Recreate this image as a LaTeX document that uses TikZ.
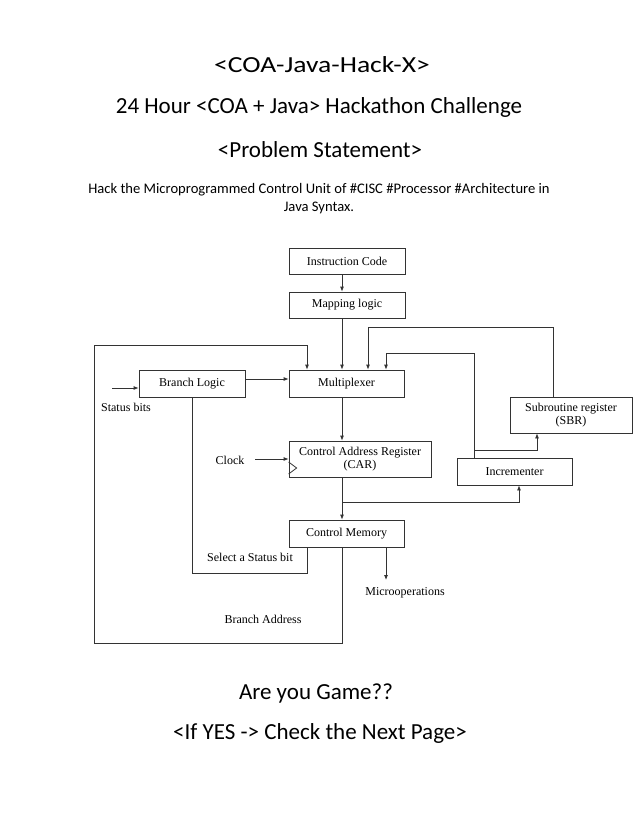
\documentclass[tikz,border=0pt]{standalone}
\usepackage{fontspec}
\setmainfont{Liberation Serif}
\newfontfamily\titlefont{Carlito}
\usetikzlibrary{arrows.meta}
\begin{document}
\begin{tikzpicture}[x=1pt,y=-1pt,
  box/.style={draw=black!80,line width=0.8pt,fill=white,inner sep=1pt,align=center,font=\fontsize{12}{13.5}\selectfont},
  lbl/.style={inner sep=0pt,align=center,font=\fontsize{12}{13.5}\selectfont},
  ln/.style={draw=black!80,line width=0.8pt},
  arr/.style={ln,-{Latex[length=5pt,width=4pt]}},
  ttl/.style={inner sep=0pt,font=\titlefont\fontsize{23}{27}\selectfont},
  sub/.style={inner sep=0pt,align=center,font=\titlefont\fontsize{14.6}{17}\selectfont}]
\path[use as bounding box,fill=white] (0,0) rectangle (638,826);

% titles
\node[ttl] (t1) at (322,65) {\scalebox{1.2}[1]{<COA-Java-Hack-X>}};
\node[ttl] (t2) at (319,107) {24 Hour <COA + Java> Hackathon Challenge};
\node[ttl] (t3) at (320,150) {<Problem Statement>};
\node[sub] (t4) at (319,190) {Hack the Microprogrammed Control Unit of \#CISC \#Processor \#Architecture in};
\node[sub] (t5) at (319,208) {Java Syntax.};
\node[ttl] (b1) at (316,693) {Are you Game??};
\node[ttl] (b2) at (320,733) {<If YES -> Check the Next Page>};

% boxes
\node[box,minimum width=116pt,minimum height=26pt] (IC) at (347,261) {Instruction Code};
\node[box,minimum width=116pt,minimum height=26pt] (ML) at (347,305) {Mapping logic};
\node[box,minimum width=115pt,minimum height=27pt] (MX) at (346.5,383.5) {Multiplexer};
\node[box,minimum width=106pt,minimum height=27pt] (BL) at (192,383.5) {Branch Logic};
\node[box,minimum width=122pt,minimum height=36pt] (SBR) at (571,415) {Subroutine register\\(SBR)};
\node[box,minimum width=115pt,minimum height=27pt] (INC) at (514.5,471.5) {Incrementer};
\node[box,minimum width=142pt,minimum height=36pt] (CAR) at (360,459) {Control Address Register\\(CAR)};
\node[box,minimum width=115pt,minimum height=27pt] (CM) at (346.5,533.5) {Control Memory};

% labels
\node[lbl] (sbits) at (126,407) {Status bits};
\node[lbl] (clk) at (230,460) {Clock};
\node[lbl] (sel) at (250,557) {Select a Status bit};
\node[lbl] (ba) at (263,619) {Branch Address};
\node[lbl] (mo) at (405,593) {Microoperations};

% helper coordinates
\coordinate (xa) at (342,0);
\coordinate (xb) at (307,0);
\coordinate (xc) at (368,0);
\coordinate (xd) at (386,0);
\coordinate (xe) at (474,0);
\coordinate (xf) at (553,0);
\coordinate (xg) at (537,0);
\coordinate (xh) at (519,0);
\coordinate (xi) at (192,0);
\coordinate (xl) at (94,0);
\coordinate (ya) at (0,345);
\coordinate (yb) at (0,327);
\coordinate (yc) at (0,353);
\coordinate (yd) at (0,450);
\coordinate (ye) at (0,502);
\coordinate (yf) at (0,573);
\coordinate (yg) at (0,643);
\coordinate (yh) at (0,379);
\coordinate (sb) at (112,388);
\coordinate (ck) at (255,459);
\coordinate (moend) at (386,580);

% main vertical path
\draw[arr] (IC.south -| xa) -- (ML.north -| xa);
\draw[arr] (ML.south -| xa) -- (MX.north -| xa);
\draw[arr] (MX.south -| xa) -- (CAR.north -| xa);
\draw[arr] (CAR.south -| xa) -- (CM.north -| xa);
\draw[arr] (xa |- ye) -- (xh |- ye) -- (INC.south -| xh);

% branch logic
\draw[arr] (sb) -- (BL.west |- sb);
\draw[arr] (BL.east |- yh) -- (MX.west |- yh);
\draw[ln] (BL.south -| xi) -- (xi |- yf) -- (xb |- yf) -- (CM.south -| xb);

% branch address loop
\draw[arr] (CM.south -| xa) -- (xa |- yg) -- (xl |- yg) -- (xl |- ya) -- (xb |- ya) -- (MX.north -| xb);

% SBR loop
\draw[arr] (SBR.north -| xf) -- (xf |- yb) -- (xc |- yb) -- (MX.north -| xc);

% incrementer loop
\draw[arr] (INC.north -| xe) -- (xe |- yc) -- (xd |- yc) -- (MX.north -| xd);
\draw[arr] (xe |- yd) -- (xg |- yd) -- (SBR.south -| xg);

% clock
\draw[arr] (ck) -- (CAR.west |- ck);
\draw[ln] ([yshift=-3pt]CAR.west) -- ++(8,6) -- ++(-8,6);

% microoperations
\draw[arr] (CM.south -| xd) -- (moend);
\end{tikzpicture}
\end{document}
